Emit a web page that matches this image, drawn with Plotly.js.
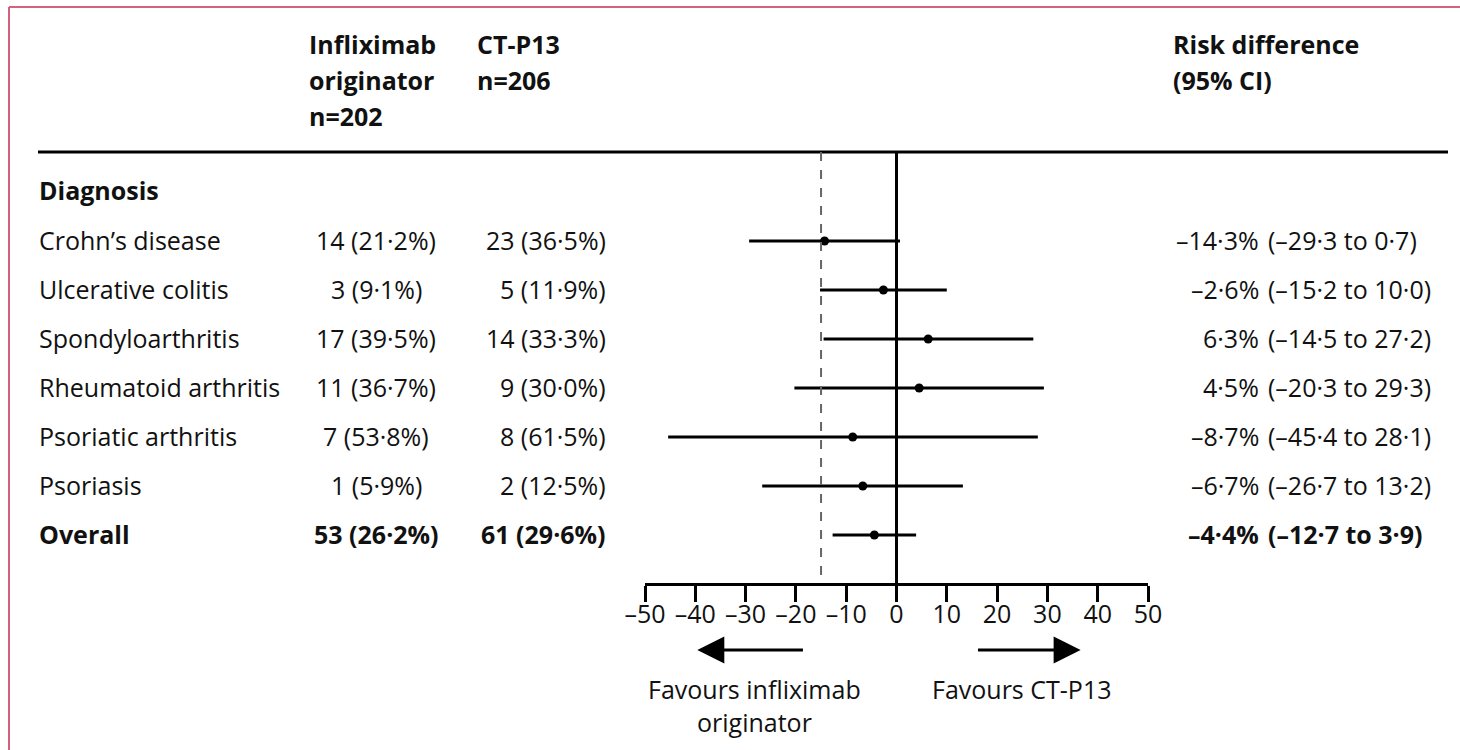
<!DOCTYPE html>
<html>
<head>
<meta charset="utf-8">
<script src="https://cdn.plot.ly/plotly-3.0.1.min.js"></script>
<style>html,body{margin:0;padding:0;background:#fff;}#chart{width:1460px;height:750px;}</style>
</head>
<body>
<div id="chart"></div>
<script>
// ---- data ----
var categories = ["Crohn’s disease", "Ulcerative colitis", "Spondyloarthritis", "Rheumatoid arthritis", "Psoriatic arthritis", "Psoriasis", "Overall"];
var originatorText = ["14 (21·2%)", "3 (9·1%)", "17 (39·5%)", "11 (36·7%)", "7 (53·8%)", "1 (5·9%)", "53 (26·2%)"];
var ctp13Text = ["23 (36·5%)", "5 (11·9%)", "14 (33·3%)", "9 (30·0%)", "8 (61·5%)", "2 (12·5%)", "61 (29·6%)"];
var riskDiff = [-14.3, -2.6, 6.3, 4.5, -8.7, -6.7, -4.4];
var ciLower = [-29.3, -15.2, -14.5, -20.3, -45.4, -26.7, -12.7];
var ciUpper = [0.7, 10.0, 27.2, 29.3, 28.1, 13.2, 3.9];
var tickVals = [-50, -40, -30, -20, -10, 0, 10, 20, 30, 40, 50];
var tickText = ["–50", "–40", "–30", "–20", "–10", "0", "10", "20", "30", "40", "50"];
var margin = -15;

// ---- helpers ----
var W = 1460, H = 750;
function px(x){ return x / W; }
function py(y){ return 1 - y / H; }
function fmt(v){ return (v < 0 ? "–" : "") + Math.abs(v).toFixed(1).replace(".", "·"); }

var FONT = "Open Sans, Noto Sans, sans-serif";
var FS = 25;
var rowY = categories.map(function(c, i){ return i + 1; });
var lastRow = categories.length - 1;

var trace = {
  type: "scatter", mode: "markers",
  x: riskDiff, y: rowY,
  marker: {color: "#000", size: 9},
  error_x: {
    type: "data", symmetric: false,
    array: riskDiff.map(function(v, i){ return ciUpper[i] - v; }),
    arrayminus: riskDiff.map(function(v, i){ return v - ciLower[i]; }),
    color: "#000", thickness: 3, width: 0
  },
  hoverinfo: "skip", showlegend: false, cliponaxis: false
};

var ann = [];
function txt(text, x, y, xanchor, bold, yref){
  ann.push({text: bold ? "<b>" + text + "</b>" : text, x: x, y: y, xref: "paper", yref: yref || "paper",
    xanchor: xanchor, yanchor: "middle", showarrow: false,
    font: {family: FONT, size: FS, color: "#111"}});
}
// headers
txt("Infliximab", px(307), py(44), "left", true);
txt("originator", px(307), py(80), "left", true);
txt("n=202", px(307), py(116), "left", true);
txt("CT-P13", px(475), py(44), "left", true);
txt("n=206", px(475), py(80), "left", true);
txt("Risk difference", px(1171), py(44), "left", true);
txt("(95% CI)", px(1171), py(80), "left", true);
txt("Diagnosis", px(37), -0.04, "left", true, "y");

categories.forEach(function(c, i){
  var b = (i === lastRow);
  var yy = rowY[i] - 0.03;
  txt(c, px(37), yy, "left", b, "y");
  txt(originatorText[i], px(376), yy, "center", b, "y");
  txt(ctp13Text[i], px(608), yy, "right", b, "y");
  txt(fmt(riskDiff[i]) + "%", px(1261), yy, "right", b, "y");
  txt("(" + fmt(ciLower[i]) + " to " + fmt(ciUpper[i]) + ")", px(1266), yy, "left", b, "y");
});

// favour labels
txt("Favours infliximab", px(755), py(689), "center", false);
txt("originator", px(755), py(722), "center", false);
txt("Favours CT-P13", px(1022), py(689), "center", false);

// arrows
ann.push({x: -39.6, y: py(650), ax: -18.3, ay: py(650), xref: "x", yref: "paper", axref: "x", ayref: "paper",
  showarrow: true, arrowhead: 2, arrowsize: 1.8, arrowwidth: 3, arrowcolor: "#000", text: ""});
ann.push({x: 36.6, y: py(650), ax: 15.9, ay: py(650), xref: "x", yref: "paper", axref: "x", ayref: "paper",
  showarrow: true, arrowhead: 2, arrowsize: 1.8, arrowwidth: 3, arrowcolor: "#000", text: ""});

var yTop = -0.816, yBot = 7.98;

var shapes = [
  // header rule
  {type: "line", xref: "paper", yref: "paper", x0: px(38), x1: px(1448), y0: py(152), y1: py(152), line: {color: "#000", width: 3}},
  // zero line
  {type: "line", xref: "x", yref: "y", x0: 0, x1: 0, y0: yTop, y1: yBot, line: {color: "#000", width: 3}},
  // non-inferiority margin
  {type: "line", xref: "x", yref: "y", x0: margin, x1: margin, y0: yTop, y1: yBot - 0.15, line: {color: "#666", width: 2, dash: "dash"}},
  // pink frame
  {type: "line", xref: "paper", yref: "paper", x0: px(9), x1: 1, y0: py(7), y1: py(7), line: {color: "#d6607e", width: 2}},
  {type: "line", xref: "paper", yref: "paper", x0: px(9), x1: px(9), y0: py(7), y1: 0, line: {color: "#d6607e", width: 2}}
];

var layout = {
  width: W, height: H,
  margin: {l: 0, r: 0, t: 0, b: 0},
  paper_bgcolor: "#fff", plot_bgcolor: "rgba(0,0,0,0)",
  showlegend: false,
  xaxis: {
    domain: [px(645), px(1148)], range: [-50, 50], fixedrange: true,
    showgrid: false, zeroline: false,
    showline: true, linecolor: "#000", linewidth: 3,
    ticks: "outside", ticklen: 16, tickwidth: 3, tickcolor: "#000",
    tickvals: tickVals, ticktext: tickText, ticklabelstandoff: -9,
    tickfont: {family: FONT, size: FS, color: "#111"},
    anchor: "y"
  },
  yaxis: {
    domain: [py(583), py(152)], range: [yBot, yTop], fixedrange: true,
    showgrid: false, zeroline: false, showline: false, showticklabels: false, ticks: ""
  },
  annotations: ann,
  shapes: shapes
};

Plotly.newPlot("chart", [trace], layout, {displayModeBar: false, staticPlot: true});
</script>
</body>
</html>
